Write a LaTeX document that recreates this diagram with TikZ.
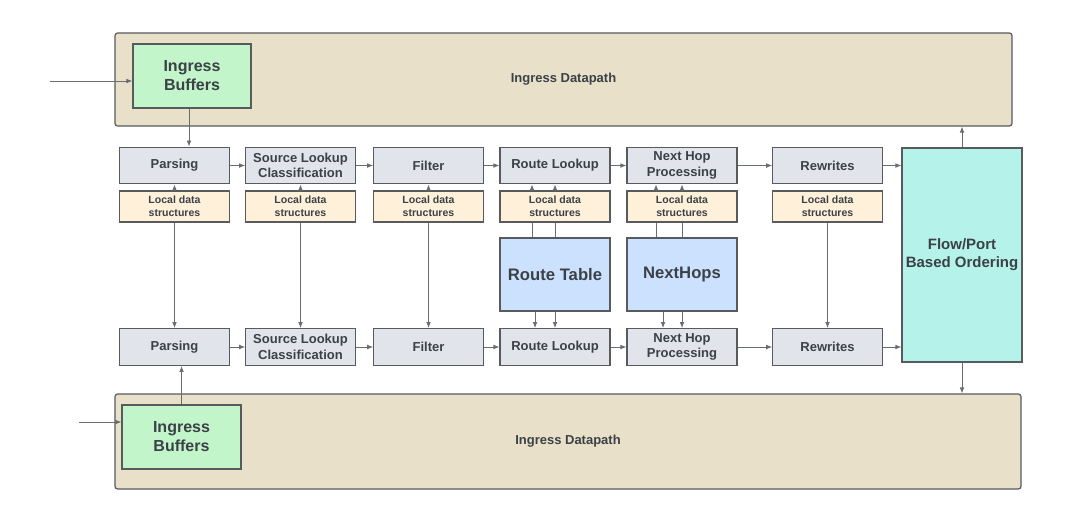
\documentclass[tikz,border=0pt]{standalone}
\usepackage{fontspec}
\setmainfont{Liberation Sans}
\usetikzlibrary{arrows.meta}
\definecolor{dpcol}{HTML}{E8E0C9}
\definecolor{bufcol}{HTML}{C2F5C9}
\definecolor{proccol}{HTML}{E1E4EA}
\definecolor{ldscol}{HTML}{FFF1D9}
\definecolor{tblcol}{HTML}{CCE1FD}
\definecolor{flowcol}{HTML}{B5F2EA}
\definecolor{bordcol}{HTML}{575B5E}
\definecolor{txtcol}{HTML}{3B4147}
\definecolor{arrcol}{HTML}{6A6D70}
\tikzset{
  base/.style={draw=bordcol, line width=0.9pt, inner sep=0pt, align=center, text=txtcol},
  dp/.style={base, fill=dpcol, rounded corners=2pt, font=\fontsize{9.75}{11.5}\selectfont\bfseries},
  buf/.style={base, fill=bufcol, minimum width=88.5pt, minimum height=48pt, font=\fontsize{12}{14.25}\selectfont\bfseries},
  proc/.style={base, fill=proccol, minimum width=82pt, minimum height=27.5pt, font=\fontsize{9.75}{11.5}\selectfont\bfseries},
  lds/.style={base, fill=ldscol, minimum width=82pt, minimum height=23.25pt, font=\fontsize{7.9}{10}\selectfont\bfseries},
  tbl/.style={base, fill=tblcol, minimum width=82.5pt, minimum height=54.75pt, font=\fontsize{12.5}{15}\selectfont\bfseries},
  flow/.style={base, fill=flowcol, minimum width=90pt, minimum height=160.5pt, font=\fontsize{11.25}{13.5}\selectfont\bfseries},
  arr/.style={draw=arrcol, line width=0.6pt, -{Latex[length=4.5pt,width=3.5pt]}},
  ln/.style={draw=arrcol, line width=0.6pt}
}
\begin{document}
\begin{tikzpicture}[x=0.75pt,y=-0.75pt]
\useasboundingbox[fill=white] (0,0) rectangle (1080,522);
% datapaths
\node[dp, minimum width=672.75pt, minimum height=69.75pt] (topdp) at (563.5,79.5) {Ingress Datapath};
\node[dp, minimum width=679.5pt, minimum height=71.25pt] (botdp) at (568,441.5) {Ingress Datapath};
\node[buf] (topbuf) at (192,76) {Ingress\\Buffers};
\node[buf, minimum width=89.25pt] (botbuf) at (181.5,437) {Ingress\\Buffers};
% top row
\node[proc] (P1) at (174.5,165.5) {Parsing};
\node[proc] (S1) at (300.5,165.5) {Source Lookup\\Classification};
\node[proc] (F1) at (428.5,165.5) {Filter};
\node[proc, minimum width=82.5pt] (R1) at (555,165.5) {Route Lookup};
\node[proc, minimum width=82.5pt] (N1) at (682,165.5) {Next Hop\\Processing};
\node[proc] (W1) at (827.5,165.5) {Rewrites};
% local data
\node[lds] (L1) at (174.5,206.5) {Local data\\structures};
\node[lds] (L2) at (300.5,206.5) {Local data\\structures};
\node[lds] (L3) at (428.5,206.5) {Local data\\structures};
\node[lds, minimum width=82.5pt] (L4) at (555,206.5) {Local data\\structures};
\node[lds, minimum width=82.5pt] (L5) at (682,206.5) {Local data\\structures};
\node[lds] (L6) at (827.5,206.5) {Local data\\structures};
% tables
\node[tbl] (RT) at (555,274.5) {Route Table};
\node[tbl] (NH) at (682,274.5) {NextHops};
% bottom row
\node[proc] (P2) at (174.5,347) {Parsing};
\node[proc] (S2) at (300.5,347) {Source Lookup\\Classification};
\node[proc] (F2) at (428.5,347) {Filter};
\node[proc, minimum width=82.5pt] (R2) at (555,347) {Route Lookup};
\node[proc, minimum width=82.5pt] (N2) at (682,347) {Next Hop\\Processing};
\node[proc] (W2) at (827.5,347) {Rewrites};
% flow
\node[flow] (FL) at (962,255) {Flow/Port\\Based Ordering};
% inputs
\coordinate (in1) at (50,81);
\coordinate (in2) at (79,422);
\draw[arr] (in1) -- (in1 -| topbuf.west);
\draw[arr] (in2) -- (in2 -| botbuf.west);
\draw[arr] ([xshift=-2.25pt]topbuf.south) -- ([xshift=-2.25pt]topbuf.south |- P1.north);
\draw[arr] (botbuf.north) -- (botbuf.north |- P2.south);
% horizontal chains
\foreach \a/\b in {P1/S1,S1/F1,F1/R1,R1/N1,N1/W1,P2/S2,S2/F2,F2/R2,R2/N2,N2/W2}{
  \draw[arr] (\a.east) -- (\b.west);
}
\draw[arr] (W1.east) -- (W1.east -| FL.west);
\draw[arr] (W2.east) -- (W2.east -| FL.west);
% local to proc
\foreach \l/\p in {L1/P1,L2/P2,L3/F1}{}
\draw[arr] (L1.north) -- (P1.south);
\draw[arr] (L2.north) -- (S1.south);
\draw[arr] (L3.north) -- (F1.south);
% long verticals
\draw[arr] (L1.south) -- (P2.north);
\draw[arr] (L2.south) -- (S2.north);
\draw[arr] (L3.south) -- (F2.north);
\draw[arr] (L6.south) -- (W2.north);
% route table
\draw[ln] ([xshift=-17.25pt]RT.north) -- ([xshift=-17.25pt]L4.south);
\draw[ln] (RT.north) -- (L4.south);
\draw[arr] ([xshift=-17.25pt]L4.north) -- ([xshift=-17.25pt]R1.south);
\draw[arr] (L4.north) -- (R1.south);
\draw[arr] ([xshift=-15pt]RT.south) -- ([xshift=-15pt]R2.north);
\draw[arr] (RT.south) -- (R2.north);
% nexthops
\draw[ln] ([xshift=-19.5pt]NH.north) -- ([xshift=-19.5pt]L5.south);
\draw[ln] (NH.north) -- (L5.south);
\draw[arr] ([xshift=-19.5pt]L5.north) -- ([xshift=-19.5pt]N1.south);
\draw[arr] (L5.north) -- (N1.south);
\draw[arr] ([xshift=-14.25pt]NH.south) -- ([xshift=-14.25pt]N2.north);
\draw[arr] (NH.south) -- (N2.north);
% flow to datapaths
\draw[arr] (FL.north) -- (FL.north |- topdp.south);
\draw[arr] (FL.south) -- (FL.south |- botdp.north);
\end{tikzpicture}
\end{document}
